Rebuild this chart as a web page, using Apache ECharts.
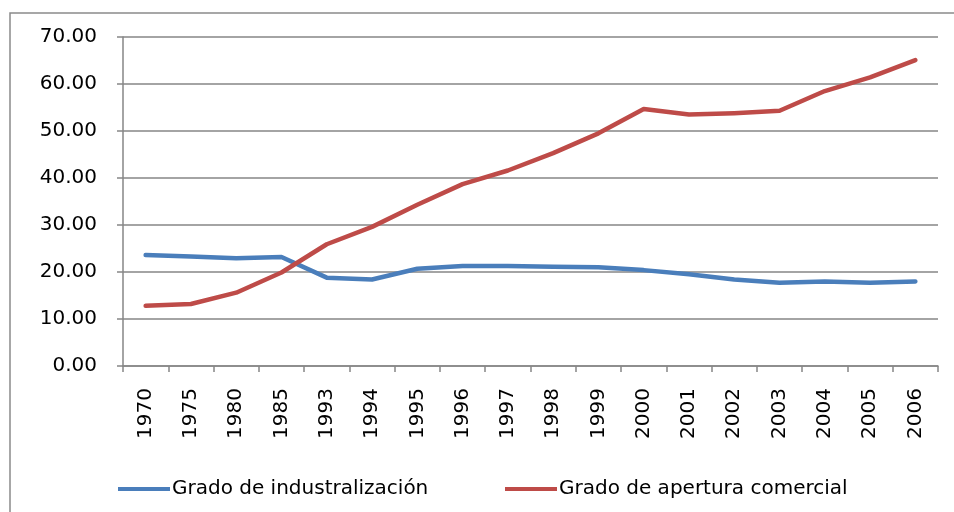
<!DOCTYPE html>
<html>
<head>
<meta charset="utf-8">
<script src="https://cdn.jsdelivr.net/npm/echarts@6/dist/echarts.min.js"></script>
<style>
html, body { margin: 0; padding: 0; background: #fff; }
#chart { width: 954px; height: 512px; }
</style>
</head>
<body>
<div id="chart"></div>
<script>
// datos
const years = ['1970', '1975', '1980', '1985', '1993', '1994', '1995', '1996', '1997',
  '1998', '1999', '2000', '2001', '2002', '2003', '2004', '2005', '2006'];
const industrializacion = [23.6, 23.3, 22.9, 23.2, 18.8, 18.4, 20.7, 21.3, 21.3,
  21.1, 21.0, 20.4, 19.5, 18.4, 17.7, 18.0, 17.7, 18.0];
const aperturaComercial = [12.8, 13.2, 15.6, 19.9, 25.9, 29.6, 34.3, 38.7, 41.6,
  45.3, 49.5, 54.7, 53.5, 53.8, 54.3, 58.5, 61.4, 65.1];
const seriesNames = ['Grado de industralización', 'Grado de apertura comercial'];

const chart = echarts.init(document.getElementById('chart'))
const axisGrey = '#868686'

const legendBase = {
  top: 474,
  icon: 'rect',
  itemWidth: 52,
  itemHeight: 4,
  textStyle: { fontFamily: 'DejaVu Sans', fontSize: 20, color: '#000', padding: [0, 0, 0, -3] }
}

const option = {
  animation: false,
  backgroundColor: '#fff',
  graphic: [{
    type: 'rect',
    shape: { x: 10, y: 13, width: 1000, height: 1000 },
    style: { fill: 'none', stroke: '#8a8a8a', lineWidth: 1.5 },
    silent: true
  }],
  grid: { left: 123, right: 16, top: 37, bottom: 146 },
  legend: [
    Object.assign({ left: 113, data: [seriesNames[0]] }, legendBase),
    Object.assign({ left: 500, data: [seriesNames[1]] }, legendBase)
  ],
  xAxis: {
    type: 'category',
    data: years,
    boundaryGap: true,
    axisLine: { lineStyle: { color: axisGrey, width: 1.5 } },
    axisTick: { show: true, length: 6, lineStyle: { color: axisGrey, width: 1.5 } },
    axisLabel: { rotate: 90, margin: 22, fontFamily: 'DejaVu Sans', fontSize: 20, color: '#000' },
    splitLine: { show: false }
  },
  yAxis: {
    type: 'value',
    min: 0,
    max: 70,
    interval: 10,
    axisLine: { show: true, lineStyle: { color: axisGrey, width: 1.5 } },
    axisTick: { show: true, length: 6, lineStyle: { color: axisGrey, width: 1.5 } },
    axisLabel: {
      margin: 26,
      fontFamily: 'DejaVu Sans',
      fontSize: 20,
      color: '#000',
      formatter: v => v.toFixed(2)
    },
    splitLine: { show: true, lineStyle: { color: axisGrey, width: 1.5 } }
  },
  series: [
    {
      name: seriesNames[0],
      type: 'line',
      data: industrializacion,
      symbol: 'none',
      itemStyle: { color: '#4a7ebb' },
      lineStyle: { color: '#4a7ebb', width: 4.5, cap: 'round', join: 'round' }
    },
    {
      name: seriesNames[1],
      type: 'line',
      data: aperturaComercial,
      symbol: 'none',
      itemStyle: { color: '#be4b48' },
      lineStyle: { color: '#be4b48', width: 4.5, cap: 'round', join: 'round' }
    }
  ]
}

chart.setOption(option)
</script>
</body>
</html>
